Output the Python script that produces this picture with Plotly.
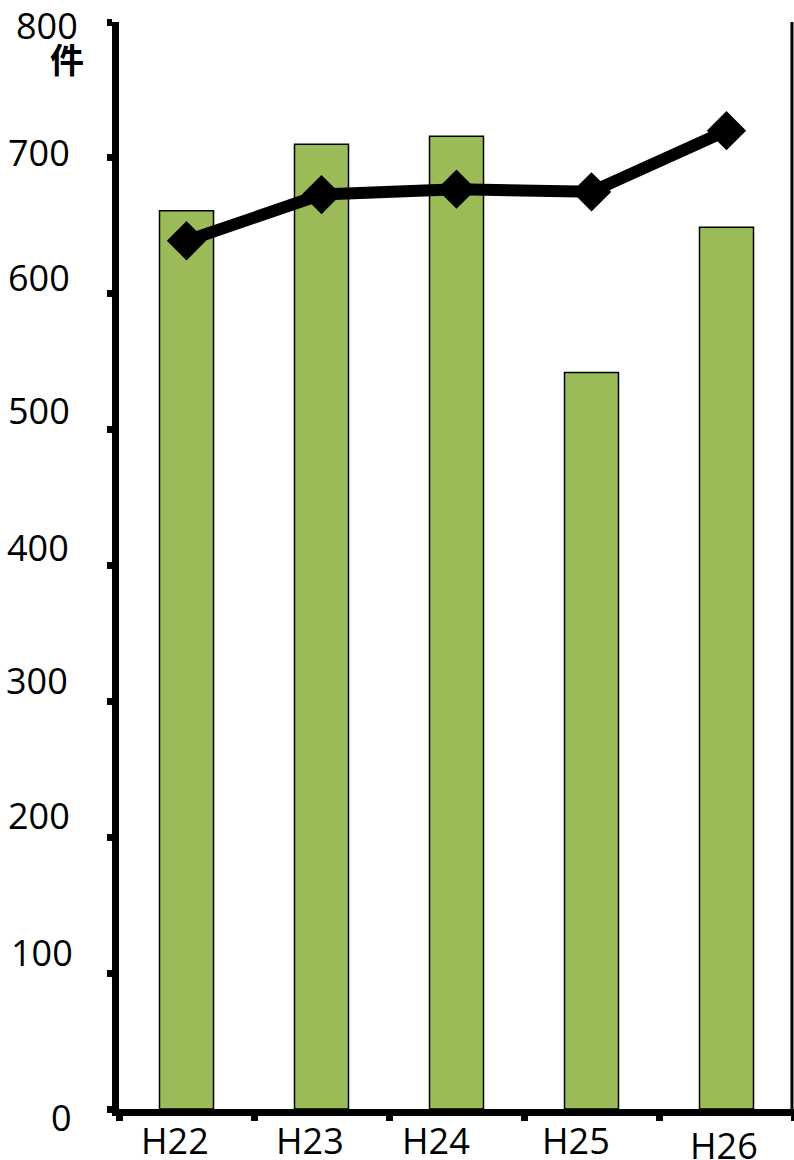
import plotly.graph_objects as go

categories = ["H22", "H23", "H24", "H25", "H26"]
bar_values = [661, 710, 716, 542, 649]
line_values = [639, 673, 677, 675, 720]
y_ticks = [0, 100, 200, 300, 400, 500, 600, 700, 800]
y_tick_labels = ["0", "100", "200", "300", "400", "500", "600", "700", "800"]
unit_label = "件"

# label fine offsets (pixels) to mimic original placement
y_label_yshift = [-8, 21, 22, 21, 18, 19, 16, 5, -3]
y_label_xshift = [-45, -44, -47, -49, -48, -47, -47, -47, -39]
x_label_xshift = [-12, -12, -21, -16, -3]
x_label_yshift = [-31, -31, -31, -31, -36]

FONT = "Open Sans, Noto Sans, DejaVu Sans, sans-serif"

fig = go.Figure()
fig.add_trace(go.Bar(
    x=categories, y=bar_values, width=0.4,
    marker=dict(color="#9BBB59", line=dict(color="#000000", width=1.5)),
    showlegend=False,
))
fig.add_trace(go.Scatter(
    x=categories, y=line_values, mode="lines+markers",
    line=dict(color="#000000", width=12),
    marker=dict(symbol="diamond", size=27, color="#000000",
                line=dict(color="#000000", width=3)),
    showlegend=False,
))

annotations = []
for v, t, ys, xs in zip(y_ticks, y_tick_labels, y_label_yshift, y_label_xshift):
    annotations.append(dict(
        x=0, xref="paper", y=v, yref="y", text=t, showarrow=False,
        xanchor="right", yanchor="middle", xshift=xs, yshift=ys,
        font=dict(family=FONT, size=36, color="#000000"),
    ))
for c, xs, ys in zip(categories, x_label_xshift, x_label_yshift):
    annotations.append(dict(
        x=c, xref="x", y=0, yref="paper", text=c, showarrow=False,
        xanchor="center", yanchor="middle", xshift=xs, yshift=ys,
        font=dict(family=FONT, size=36, color="#000000"),
    ))
annotations.append(dict(
    x=0, xref="paper", y=800, yref="y", text="<b>" + unit_label + "</b>",
    showarrow=False, xanchor="center", yanchor="middle", xshift=-52, yshift=-36,
    font=dict(family="Noto Sans CJK JP", size=34, color="#000000"),
))

fig.update_layout(
    width=794, height=1160,
    margin=dict(l=119, r=0, t=22, b=51),
    paper_bgcolor="white", plot_bgcolor="white",
    bargap=0.6,
    xaxis=dict(
        type="category", range=[-0.5, 4.5],
        showline=True, linecolor="#000000", linewidth=7,
        ticks="outside", tickson="boundaries", ticklen=5, tickwidth=7,
        tickcolor="#000000", showticklabels=False, showgrid=False, zeroline=False,
    ),
    yaxis=dict(
        range=[0, 800], tickvals=y_ticks,
        showline=True, linecolor="#000000", linewidth=7,
        ticks="outside", ticklen=5, tickwidth=7, tickcolor="#000000",
        showticklabels=False, showgrid=False, zeroline=False,
    ),
    annotations=annotations,
    shapes=[dict(type="line", xref="paper", yref="y", x0=0.997, x1=0.997,
                 y0=0, y1=800, line=dict(color="#000000", width=3))],
)

fig.write_html("out.html")
